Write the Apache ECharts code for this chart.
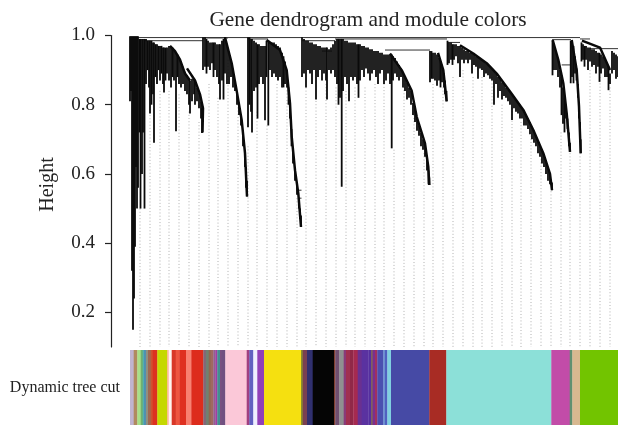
<!DOCTYPE html>
<html><head><meta charset="utf-8">
<style>html,body{margin:0;padding:0;background:#fff}#c{width:618px;height:425px}</style>
<script src="https://cdn.jsdelivr.net/npm/echarts@6/dist/echarts.min.js"></script>
</head><body><div id="c"></div>
<script>
const titleText = 'Gene dendrogram and module colors';
const yAxisName = 'Height';
const bandLabel = 'Dynamic tree cut';
const heightTicks = [0.2, 0.4, 0.6, 0.8, 1.0];

// leaf clusters: [gene position, merge height, lowest leaf height]
const cluster1 = [[130,.998,.81],[131,.998,.84],[132,.998,.32],[133,.998,.15],[134,.998,.24],[135,.998,.39],[136,.998,.62],[137,.998,.50],[138,.998,.56],[139.5,.99,.72],[140.5,.99,.50],[142,.99,.60],[143,.99,.72],[144.5,.99,.50],[146,.99,.86],[147.5,.985,.90],[149,.985,.85],[150,.985,.775],[151.5,.985,.80],[153,.98,.83],[154,.98,.69],[155.5,.975,.88],[157,.975,.86],[158.5,.97,.90],[160,.97,.87],[161.5,.97,.89],[163,.965,.86],[164,.965,.835],[165.5,.965,.87],[167,.965,.89],[169,.97,.87],[171,.97,.85],[172.5,.965,.88],[174,.955,.87],[176,.95,.723],[177.5,.945,.88],[179,.935,.86],[181,.925,.85],[183,.91,.86],[185,.895,.84],[187,.885,.83],[189,.875,.80],[190,.87,.775],[192,.875,.81],[194,.875,.83],[195,.87,.80],[197,.85,.81],[199,.835,.79],[201,.81,.76],[202,.79,.718]];
const cluster2 = [[203,.995,.90],[205,.995,.91],[206.5,.99,.89],[208,.985,.91],[210,.98,.90],[212,.98,.92],[213.5,.98,.88],[215,.98,.90],[217,.975,.88],[219,.975,.86],[220,.975,.815],[222,.985,.87],[223.5,.99,.815],[225,.995,.89],[227,.97,.86],[229,.95,.86],[231,.925,.88],[233,.895,.85],[235,.865,.84],[237,.835,.80],[239,.805,.77],[241,.765,.74],[243,.725,.68],[245,.665,.62],[246,.62,.56],[247,.58,.535]];
const cluster3 = [[248,.995,.735],[249.5,.995,.80],[251,.99,.78],[252,.99,.72],[254,.985,.84],[256,.98,.85],[257.5,.975,.76],[259,.975,.86],[261,.97,.88],[263,.97,.86],[265,.97,.755],[266.5,.985,.88],[268.3,.985,.74],[270,.98,.90],[272,.98,.88],[274,.98,.89],[276,.975,.88],[278,.97,.87],[280,.965,.88],[282,.95,.85],[283.5,.94,.85],[285,.925,.86],[287,.895,.85],[288.5,.85,.80],[290,.81,.76],[291.5,.73,.68],[293,.67,.63],[295,.615,.58],[297,.565,.54],[299,.53,.50],[300,.50,.47],[301,.48,.447]];
const cluster4 = [[302,.995,.88],[304,.99,.89],[306,.985,.85],[308,.985,.90],[310,.98,.89],[312,.98,.86],[314,.975,.90],[316,.975,.815],[318,.97,.88],[320,.97,.90],[322,.965,.87],[324,.965,.89],[326,.965,.87],[327,.965,.815],[329,.96,.90],[331,.965,.89],[333,.975,.90],[335,.985,.88],[337,.99,.86],[338.5,.99,.80],[340,.99,.82],[341.7,.99,.563],[343,.99,.84],[345,.985,.88],[347,.985,.86],[349,.98,.81],[351,.98,.88],[353,.98,.87],[355,.98,.88],[357,.975,.86],[358.5,.975,.82],[360,.975,.87]];
const cluster5 = [[362,.97,.90],[364,.97,.88],[366,.965,.905],[368,.965,.89],[370,.96,.87],[372,.96,.89],[374,.955,.90],[376,.955,.88],[378,.955,.86],[380,.95,.89],[382,.95,.90],[384,.945,.86],[386,.945,.87],[388,.945,.89],[390,.945,.86],[391.7,.945,.674],[393,.94,.87],[395,.935,.89],[397,.925,.88],[399,.915,.87],[401,.905,.88],[403,.89,.85],[405,.88,.84],[407,.865,.815],[409,.85,.82],[411,.84,.80],[413,.805,.77],[415,.785,.75],[417,.76,.725],[419,.74,.71],[421,.72,.68],[423,.70,.67],[425,.685,.65],[427,.65,.61],[428.5,.61,.57],[429.3,.59,.568]];
const cluster6 = [[430,.955,.865],[431.5,.955,.875],[433,.95,.875],[435,.95,.87],[437,.945,.855],[439,.935,.87],[440.5,.925,.85],[442,.91,.865],[444,.89,.85],[445,.87,.83],[446.5,.84,.81]];
const cluster7 = [[447.5,.985,.915],[449,.98,.92],[451,.98,.93],[452.5,.975,.915],[454,.975,.93],[456,.975,.94],[458,.97,.92],[460,.97,.88],[462,.965,.93],[464,.96,.92],[466,.955,.93],[468,.955,.92],[470,.95,.93],[472,.95,.89],[474,.945,.915],[476,.94,.91],[478,.94,.875],[480,.935,.905],[482,.93,.90],[484,.925,.88],[486,.92,.89],[488,.915,.885],[490,.91,.875],[492,.905,.87],[494,.90,.80],[496,.89,.86],[498,.88,.82],[500,.875,.84],[502,.865,.815],[504,.86,.825],[506,.85,.82],[508,.845,.81],[510,.838,.80],[512,.83,.756],[514,.82,.79],[516,.815,.78],[518,.805,.775],[520,.80,.76],[522,.79,.76],[524,.78,.74],[526,.77,.74],[528,.76,.73],[530,.75,.715],[532,.735,.70],[534,.725,.69],[536,.71,.68],[538,.695,.66],[540,.68,.65],[542,.67,.63],[544,.655,.62],[546,.64,.60],[548,.62,.58],[550,.60,.57],[552,.575,.553]];
const cluster8 = [[552.5,.985,.885],[554,.97,.90],[556,.95,.90],[558,.93,.88],[560,.90,.85],[561.5,.88,.77],[563,.85,.745],[564.5,.82,.72],[566,.79,.76],[567.5,.76,.73],[569,.72,.68],[570,.69,.664]];
const cluster9 = [[570.7,.985,.862],[572,.985,.88],[573.5,.97,.862],[575,.94,.89],[576.5,.905,.87],[578,.86,.82],[579,.80,.76],[580,.75,.70],[580.7,.70,.66]];
const cluster10 = [[581.5,.98,.925],[583,.975,.93],[584.5,.97,.91],[586,.97,.93],[588,.965,.90],[590,.965,.925],[592,.96,.91],[594,.96,.915],[596,.955,.89],[598,.95,.91],[599.5,.95,.866],[601,.945,.89],[603,.94,.905],[605,.93,.88],[607,.92,.88],[608.5,.91,.842],[610,.89,.86],[612,.955,.89],[614,.95,.90],[616,.945,.875],[618,.94,.88]];
const leafClusters = [cluster1,cluster2,cluster3,cluster4,cluster5,cluster6,cluster7,cluster8,cluster9,cluster10];

// thick main stems of the tree
const stem1 = [[170,.97],[175,.955],[180,.93],[185,.89],[190,.87]];
const stem1b = [[187,.905],[195,.87],[200,.83],[203,.79],[202.5,.72]];
const stem2 = [[225,.995],[231.7,.92],[236.7,.84],[241.7,.755],[245,.66],[247,.535]];
const stem3 = [[266.7,.987],[280,.958],[286.7,.90],[290,.804],[291.7,.708],[295,.611],[298.3,.544],[301,.447]];
const stem5 = [[390,.948],[401.7,.90],[411.7,.84],[416.7,.765],[425,.688],[428.3,.62],[429.3,.568]];
const stem6 = [[438,.95],[443.3,.90],[446.7,.81]];
const stem7 = [[460,.972],[473.3,.948],[486.7,.92],[496.7,.89],[510,.838],[523.3,.785],[533.3,.727],[543.3,.66],[550,.60],[552,.553]];
const stem8 = [[552.7,.987],[558.3,.93],[563.3,.862],[566.7,.775],[570,.664]];
const stem9 = [[571.7,.987],[576.7,.90],[579,.795],[580.7,.66]];
const stem10 = [[582,.985],[600,.965],[610,.90]];
const stems = [stem1,stem1b,stem2,stem3,stem5,stem6,stem7,stem8,stem9,stem10];

// upper merge links between the modules: [from, to, height]
const links = [[132,580,.994],[580,590,.99],[145,203,.985],[203,228,.993],[248,268,.99],[302,335,.985],[335,447,.99],[322,332,.955],[385,430,.958],[447,460,.98],[552,571,.988],[590,618,.962],[561.7,570,.915],[298,301.5,.553],[298,301.5,.53]];

// dotted guide lines hanging below the tree
const guideX = [140,150,160,169,179,189,199,209,218,228,238,248,257,267,277,287,297,306,316,326,336,346,355,365,375,384,394,404,414,424,433,443,453,463,473,482,492,502,512,521,531,541,551,561,570,580,590,600,610];
const guideTop = [.50,.77,.84,.84,.83,.78,.75,.86,.82,.93,.82,.68,.78,.74,.86,.86,.53,.85,.82,.86,.85,.84,.85,.85,.86,.87,.67,.87,.78,.66,.86,.85,.88,.90,.88,.88,.88,.80,.80,.75,.72,.67,.55,.72,.66,.66,.90,.88,.85];

// module colour bar
const bandEdges = [130,133.7,137.3,140.7,142.7,144,146,148,150.7,152.7,157.3,167.3,168.7,171.7,175.7,179.3,186,191.3,203.3,206,208.7,210.7,213.3,215.3,217.3,220,221.7,225.3,246.7,249.3,253.3,257.3,264,301,302.7,307,312.7,334,335.3,339.3,343.7,346,350,353.3,357.7,361.7,368.3,371,372.7,375,377.3,383.3,385,387.3,391,429.3,446.3,551.3,569.7,572.3,580,618];
const bandColors = ['#c0b4d0','#b08a60','#a8e088','#70b070','#50b0b0','#5090b0','#909080','#a06850','#d05030','#dd3020','#c5d800','#ffb0a0','#fff5f0','#d83828','#ee5540','#df3020','#f88070','#dd2c1c','#806878','#708070','#906850','#a06860','#906090','#a040a0','#409090','#7a5080','#705080','#fbc8d8','#a04080','#6060c0','#eeeeff','#9040b8','#f5e010','#8a8a30','#7a4050','#30306f','#050505','#804030','#705070','#909090','#8a3a78','#a03050','#902848','#a52a50','#6a3090','#5a32a0','#5530a0','#806060','#7a2f90','#a03060','#4a50b0','#6a90d0','#5060c0','#80d0e0','#464aa5','#a82c24','#8ce0d8','#c24ca8','#609070','#d8b890','#72c400'];

const serif = '"Liberation Serif","Times New Roman",serif';
const leaves = leafClusters.flat();
const guides = guideX.map((x,i)=>[x,guideTop[i],0.1]);
const bandData = bandColors.map((c,i)=>[bandEdges[i],bandEdges[i+1],c]);

function vRender(style){
  return function(params,api){
    const a=api.coord([api.value(0),api.value(1)]), b=api.coord([api.value(0),api.value(2)]);
    return {type:'line',shape:{x1:a[0],y1:a[1],x2:b[0],y2:b[1]},style:style};
  };
}
const stemSeries = stems.map(s=>({type:'line',xAxisIndex:0,yAxisIndex:0,data:s,showSymbol:false,silent:true,z:5,lineStyle:{color:'#0a0a0a',width:2.5},animation:false}));

const chart = echarts.init(document.getElementById('c'),null,{renderer:'canvas'});
chart.setOption({
  animation:false,
  backgroundColor:'#fff',
  title:{text:titleText,left:363,top:5,textAlign:'center',textStyle:{fontFamily:serif,fontWeight:'normal',fontSize:21.4,color:'#222'}},
  grid:[{left:130,right:0,top:35.5,height:311.5},{left:130,right:0,top:350,height:75}],
  xAxis:[
    {type:'value',gridIndex:0,min:130,max:618,show:false},
    {type:'value',gridIndex:1,min:130,max:618,show:false}
  ],
  yAxis:[
    {type:'value',gridIndex:0,min:0.1,max:1.0,offset:19,
     axisLine:{show:true,onZero:false,lineStyle:{color:'#222',width:1.2}},
     axisTick:{show:true,length:6,customValues:heightTicks,lineStyle:{color:'#222',width:1.2}},
     axisLabel:{margin:16,padding:[2,0,0,0],fontFamily:serif,fontSize:19,color:'#222',customValues:heightTicks,formatter:v=>v.toFixed(1)},
     splitLine:{show:false}},
    {type:'category',gridIndex:1,data:[bandLabel],axisLine:{show:false},axisTick:{show:false},
     axisLabel:{margin:10,fontFamily:serif,fontSize:16,color:'#222'}}
  ],
  graphic:[{type:'text',x:47.5,y:184.5,rotation:Math.PI/2,style:{text:yAxisName,fontFamily:serif,fontSize:20,fill:'#222',align:'center',verticalAlign:'middle'}}],
  series:[
    {type:'custom',xAxisIndex:0,yAxisIndex:0,data:guides,silent:true,z:1,renderItem:vRender({stroke:'#b0b0b0',lineWidth:1,lineDash:[1,2.2]})},
    {type:'custom',xAxisIndex:0,yAxisIndex:0,data:leaves,silent:true,z:4,renderItem:vRender({stroke:'#0a0a0a',lineWidth:1.8})},
    ...stemSeries,
    {type:'custom',xAxisIndex:0,yAxisIndex:0,data:links,silent:true,z:3,renderItem:function(params,api){
      const a=api.coord([api.value(0),api.value(2)]), b=api.coord([api.value(1),api.value(2)]);
      return {type:'line',shape:{x1:a[0],y1:a[1],x2:b[0],y2:b[1]},style:{stroke:'#333',lineWidth:1}};
    }},
    {type:'custom',xAxisIndex:1,yAxisIndex:1,data:bandData,silent:true,encode:{x:[0,1]},renderItem:function(params,api){
      const x0=api.coord([api.value(0),0])[0], x1=api.coord([api.value(1),0])[0];
      const cs=params.coordSys;
      return {type:'rect',shape:{x:x0,y:cs.y,width:x1-x0+0.3,height:cs.height},style:{fill:bandColors[params.dataIndex]}};
    }}
  ]
});
</script></body></html>
